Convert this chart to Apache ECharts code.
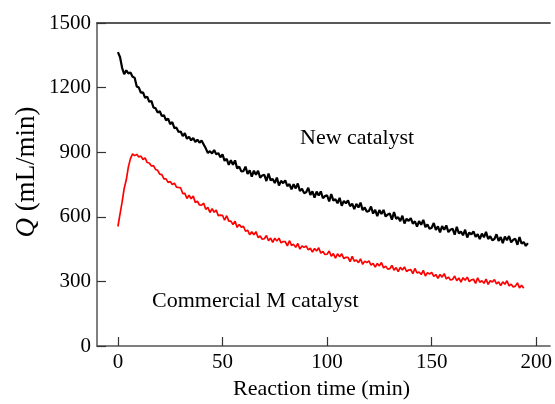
<!DOCTYPE html>
<html>
<head>
<meta charset="utf-8">
<script src="https://cdn.jsdelivr.net/npm/echarts@6/dist/echarts.min.js"></script>
<style>html,body{margin:0;padding:0;background:#fff}#c{width:555px;height:404px}</style>
</head>
<body>
<div id="c"></div>
<script>
// Time (min) for each sample: index = minute
const xTicks = [0, 50, 100, 150, 200];
const yTicks = [0, 300, 600, 900, 1200, 1500];

const newCatalyst = [
1365,1342,1292,1262,1280,1266,1270,1250,1246,1205,
1200,1176,1178,1152,1158,1134,1138,1108,1104,1084,
1090,1068,1072,1048,1056,1030,1040,1012,1014,994,
996,975,988,962,972,955,966,948,958,944,
954,936,918,896,905,894,910,890,896,876,
890,860,869,841,863,842,862,825,833,811,
812,833,799,816,786,814,795,814,782,792,
795,766,801,769,776,757,782,745,767,756,
769,742,752,727,751,732,755,720,730,710,
714,735,702,718,689,717,699,718,686,696,
700,671,706,675,682,663,688,651,674,663,
676,649,661,636,660,643,666,631,643,623,
627,648,615,632,603,631,613,632,601,611,
615,587,622,591,598,580,605,569,591,581,
594,568,579,555,580,563,586,552,564,544,
549,571,539,556,528,557,540,560,529,540,
545,517,554,523,531,514,540,504,527,518,
532,507,519,496,522,505,530,497,510,491,
497,519,488,506,478,508,491,511,481,493,
498,470,506,475,483,465,478
];

const commercialM = [
555,612,668,732,772,832,870,892,884,890,
878,882,866,874,852,850,836,838,820,816,
798,796,776,776,760,764,750,756,738,736,
734,708,709,685,700,684,696,667,672,655,
654,663,635,644,620,638,621,631,605,608,
607,584,605,580,580,564,579,551,564,552,
556,533,538,517,531,517,531,504,511,496,
498,513,489,501,481,501,487,501,479,485,
485,465,489,467,472,458,476,450,465,458,
465,446,454,436,453,441,456,431,439,425,
426,441,417,429,408,428,415,428,406,412,
412,392,416,394,399,387,405,379,394,387,
395,376,384,366,383,372,388,363,371,357,
359,374,352,364,345,365,353,367,346,353,
355,336,360,339,344,332,351,325,341,334,
342,323,332,314,332,320,336,312,320,307,
309,325,303,316,297,317,305,320,299,307,
310,291,317,296,303,291,311,286,303,297,
308,289,298,280,298,287,303,279,287,274,
278,293,270,282,268
];

const pairs = arr => arr.map((v, i) => [i, v]);
const FONT = '"Liberation Serif","Times New Roman",serif';
const axisCol = '#555';

const chart = echarts.init(document.getElementById('c'), null, {renderer: 'canvas'});
chart.setOption({
  animation: false,
  backgroundColor: '#fff',
  grid: {left: 97, right: 0, top: 23, bottom: 58},
  xAxis: [{
    type: 'value', min: -10, max: 206.6,
    axisLine: {show: true, onZero: false, lineStyle: {color: axisCol, width: 1.5}},
    axisTick: {show: true, inside: true, length: 9, customValues: xTicks, lineStyle: {color: '#333', width: 1.2}},
    axisLabel: {customValues: xTicks, margin: 6, color: '#000', fontFamily: FONT, fontSize: 21},
    splitLine: {show: false}
  }, {
    type: 'value', position: 'top', min: -10, max: 206.6,
    axisLine: {show: true, onZero: false, lineStyle: {color: '#222', width: 1.5}},
    axisTick: {show: false}, axisLabel: {show: false}, splitLine: {show: false}
  }],
  yAxis: {
    type: 'value', min: 0, max: 1500, interval: 300,
    axisLine: {show: true, onZero: false, lineStyle: {color: axisCol, width: 1.5}},
    axisTick: {show: true, inside: true, length: 9, lineStyle: {color: '#333', width: 1.2}},
    axisLabel: {margin: 6, color: '#000', fontFamily: FONT, fontSize: 21, formatter: v => String(v)},
    splitLine: {show: false}
  },
  series: [{
    name: 'New catalyst', type: 'line', data: pairs(newCatalyst),
    showSymbol: false, lineStyle: {color: '#000', width: 2.2}
  }, {
    name: 'Commercial M catalyst', type: 'line', data: pairs(commercialM),
    showSymbol: false, lineStyle: {color: '#ff0000', width: 1.7}
  }],
  graphic: [
    {type: 'text', left: 233, top: 378, style: {text: 'Reaction time (min)', font: '22px ' + FONT, fill: '#000'}},
    {type: 'text', x: 27, y: 172, rotation: Math.PI / 2, style: {
      text: '{q|Q} (mL/min)', font: '27px ' + FONT, fill: '#000', align: 'center', verticalAlign: 'middle',
      rich: {q: {fontStyle: 'italic', fontFamily: FONT, fontSize: 27}}
    }},
    {type: 'text', left: 300, top: 127, style: {text: 'New catalyst', font: '22px ' + FONT, fill: '#000'}},
    {type: 'text', left: 152, top: 290, style: {text: 'Commercial M catalyst', font: '22px ' + FONT, fill: '#000'}}
  ]
});
</script>
</body>
</html>
